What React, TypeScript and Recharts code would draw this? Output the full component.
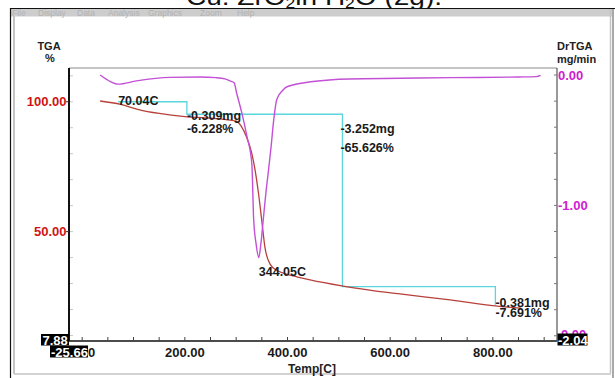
import React from 'react'
import {
  ComposedChart,
  Line,
  XAxis,
  YAxis,
  ReferenceDot,
  ReferenceLine,
} from 'recharts'

// TGA weight curve (%)
const tgaTemp = [35, 75, 110, 150, 200, 250, 300, 310, 320, 330, 337, 344, 350, 356, 366, 380, 392, 420, 444, 506, 560, 619, 717, 805, 855]
const tgaPct = [100.3, 99.0, 97.0, 95.5, 94.3, 93.7, 92.5, 90.5, 86.5, 80.5, 73.5, 64, 54, 44, 37.5, 35, 34, 32.5, 31.4, 29.1, 27.5, 26, 23.7, 21.4, 20.5]

// DrTGA curve (mg/min)
const drTemp = [35, 55, 70, 106, 171, 230, 260, 278, 288, 296, 301, 311, 321, 330.5, 334, 339, 344, 348, 353, 358, 363, 368, 373, 379, 390, 399, 450, 520, 620, 720, 850, 885, 893]
const drRate = [0, -0.05, -0.07, -0.045, -0.018, -0.015, -0.02, -0.03, -0.045, -0.06, -0.14, -0.29, -0.47, -0.68, -1.1, -1.3, -1.4, -1.3, -1.1, -0.9, -0.73, -0.55, -0.35, -0.19, -0.12, -0.09, -0.05, -0.03, -0.025, -0.02, -0.015, -0.012, -0.003]

// step analysis line
const stepTemp = [70.04, 204, 507, 805]
const stepPct = [100, 95.2, 28.85, 21.8]

// annotations
const noteTemp = [70.04, 204, 507, 344.05, 805]
const noteValue = [100, 95.2, 95.2, -1.4, 28.85]
const noteAxis = ['tga', 'tga', 'tga', 'dr', 'tga']
const noteText = [['70.04C'], ['-0.309mg', '-6.228%'], ['-3.252mg', '-65.626%'], ['344.05C'], ['-0.381mg', '-7.691%']]

const xTicks = [0, 50, 100, 150, 200, 250, 300, 350, 400, 450, 500, 550, 600, 650, 700, 750, 800, 850, 900]
const xLabels = [200, 400, 600, 800]
const tgaTicks = [10, 20, 30, 40, 50, 60, 70, 80, 90, 100, 110]
const tgaLabels = [50, 100]
const drTicks = [0, -0.2, -0.4, -0.6, -0.8, -1, -1.2, -1.4, -1.6, -1.8, -2]
const drLabels = [0, -1]
const menuItems = ['File', 'Display', 'Data', 'Analysis', 'Graphics', 'Zoom', 'Help']

const FONT = '"Liberation Sans", Arial, sans-serif'
const RED = '#d01414'
const MAG = '#d020d0'

const tgaData = tgaTemp.map((t, i) => ({ t, v: tgaPct[i] }))
const drData = drTemp.map((t, i) => ({ t, d: drRate[i] }))
const stepData = stepTemp.map((t, i) => ({ t, v: stepPct[i] }))

// text placement relative to the anchor point: [dx, baseline offsets]
const noteOffsets: [number, number[]][] = [
  [0, [3]],
  [0, [5.7, 18.4]],
  [-2, [18.7, 37.4]],
  [0, [18]],
  [0, [20, 30]],
]

const XTick = ({ x, y, payload }: any) => {
  const v = payload.value
  return (
    <g>
      <line x1={x} y1={y} x2={x} y2={y - 4} stroke="#444" strokeWidth={1} />
      {xLabels.includes(v) && (
        <text x={x} y={y + 15.5} textAnchor="middle" fontSize={13} fontWeight="bold" fill="#1a1a1a" fontFamily={FONT}>
          {v.toFixed(2)}
        </text>
      )}
    </g>
  )
}

const TgaTick = ({ x, y, payload }: any) => {
  const v = payload.value
  const lab = tgaLabels.includes(v)
  return (
    <g>
      <line x1={x + 1} y1={y} x2={x + 4} y2={y} stroke="#c8c8c8" strokeWidth={1} />
      {lab && <line x1={x - 3} y1={y} x2={x} y2={y} stroke="#333" strokeWidth={1} />}
      {lab && (
        <text x={x - 2.5} y={y + 4.5} textAnchor="end" fontSize={13} fontWeight="bold" fill={RED} fontFamily={FONT}>
          {v.toFixed(2)}
        </text>
      )}
    </g>
  )
}

const DrTick = ({ x, y, payload }: any) => {
  const v = payload.value
  const lab = drLabels.some(l => Math.abs(l - v) < 1e-6)
  return (
    <g>
      <line x1={x - 3} y1={y} x2={x} y2={y} stroke="#777" strokeWidth={1} />
      {lab && (
        <text x={x + 1} y={y + 4.5} textAnchor="start" fontSize={13} fontWeight="bold" fill={MAG} fontFamily={FONT}>
          {v.toFixed(2)}
        </text>
      )}
    </g>
  )
}

const Note = ({ cx, cy, i }: any) => {
  const [dx, dys] = noteOffsets[i]
  return (
    <g>
      {noteText[i].map((s, k) => (
        <text key={k} x={cx + dx} y={cy + dys[k]} fontSize={12.5} fontWeight="bold" fill="#1a1a1a" fontFamily={FONT}>
          {s}
        </text>
      ))}
    </g>
  )
}

export default function App() {
  return (
    <div style={{ position: 'fixed', left: 0, top: 0, width: 615, height: 378, background: '#fff', overflow: 'hidden' }}>
      <svg width={615} height={378} style={{ position: 'absolute', left: 0, top: 0 }} fontFamily={FONT}>
        <text x={186} y={5} fontSize={24} fill="#111" textLength={256} lengthAdjust="spacingAndGlyphs">
          Cu: ZrO<tspan fontSize={15} dy={3}>2</tspan><tspan dy={-3}>in H</tspan><tspan fontSize={15} dy={3}>2</tspan><tspan dy={-3}>O (2g).</tspan>
        </text>
        <rect x={11} y={9} width={601} height={7.5} fill="#cdcdcd" />
        {menuItems.map((m, i) => (
          <text key={m} x={[12, 38, 77, 108, 148, 200, 237][i]} y={15.5} fontSize={8.5} fill="#b2b2b2">{m}</text>
        ))}
        <line x1={10} y1={8.5} x2={615} y2={8.5} stroke="#111" strokeWidth={1.2} />
        <line x1={10.5} y1={8} x2={10.5} y2={378} stroke="#111" strokeWidth={1.2} />
        <line x1={14} y1={16} x2={14} y2={374} stroke="#c4c4c4" strokeWidth={2} />
        <line x1={610.5} y1={9} x2={610.5} y2={373} stroke="#c4c4c4" strokeWidth={1.5} />
        <line x1={613} y1={9} x2={613} y2={378} stroke="#555" strokeWidth={1} />
        <line x1={14} y1={374} x2={611} y2={374} stroke="#c4c4c4" strokeWidth={1.5} />
        <text x={49} y={50} textAnchor="middle" fontSize={11} fontWeight="bold" fill="#222">TGA</text>
        <text x={50} y={62} textAnchor="middle" fontSize={11} fontWeight="bold" fill="#222">%</text>
        <text x={557} y={50} fontSize={11} fontWeight="bold" fill="#222">DrTGA</text>
        <text x={557} y={63} fontSize={11} fontWeight="bold" fill="#222">mg/min</text>
        <text x={312} y={373} textAnchor="middle" fontSize={12} fontWeight="bold" fill="#222">Temp[C]</text>
      </svg>
      <div style={{ position: 'absolute', left: 0, top: 0 }}>
        <ComposedChart width={615} height={378} margin={{ top: 68, right: 0, bottom: 7, left: 0 }}>
          <XAxis
            type="number"
            dataKey="t"
            domain={[-25.66, 925]}
            ticks={xTicks}
            interval={0}
            height={30}
            allowDataOverflow
            tickSize={0}
            tickMargin={0}
            tickLine={false}
            axisLine={{ stroke: '#111', strokeWidth: 1.6 }}
            tick={<XTick />}
          />
          <YAxis
            yAxisId="tga"
            type="number"
            domain={[7.88, 113]}
            ticks={tgaTicks}
            interval={0}
            width={69}
            allowDataOverflow
            tickSize={0}
            tickMargin={0}
            tickLine={false}
            axisLine={{ stroke: '#111', strokeWidth: 2 }}
            tick={<TgaTick />}
          />
          <YAxis
            yAxisId="dr"
            orientation="right"
            type="number"
            domain={[-2.04, 0.054]}
            ticks={drTicks}
            interval={0}
            width={58}
            allowDataOverflow
            tickSize={0}
            tickMargin={0}
            tickLine={false}
            axisLine={{ stroke: '#555', strokeWidth: 1.2 }}
            tick={<DrTick />}
          />
          <ReferenceLine yAxisId="tga" y={113} stroke="#8a8a8a" strokeWidth={1} />
          <Line
            data={stepData}
            dataKey="v"
            yAxisId="tga"
            type="stepAfter"
            stroke="#5ad6dc"
            strokeWidth={1.3}
            dot={false}
            isAnimationActive={false}
          />
          <Line
            data={tgaData}
            dataKey="v"
            yAxisId="tga"
            type="monotone"
            stroke="#b8403a"
            strokeWidth={1.3}
            dot={false}
            isAnimationActive={false}
          />
          <Line
            data={drData}
            dataKey="d"
            yAxisId="dr"
            type="monotone"
            stroke="#c350d6"
            strokeWidth={1.4}
            dot={false}
            isAnimationActive={false}
          />
          {noteTemp.map((t, i) => (
            <ReferenceDot
              key={i}
              x={t}
              y={noteValue[i]}
              yAxisId={noteAxis[i]}
              r={0}
              ifOverflow="visible"
              shape={(p: any) => <Note cx={p.cx} cy={p.cy} i={i} />}
            />
          ))}
        </ComposedChart>
      </div>
      <svg width={615} height={378} style={{ position: 'absolute', left: 0, top: 0, pointerEvents: 'none' }} fontFamily={FONT}>
        <rect x={41} y={334} width={28} height={11.5} fill="#000" />
        <text x={42.5} y={344.5} fontSize={13} fontWeight="bold" fill="#fff">7.88</text>
        <rect x={50} y={345.5} width={38} height={12} fill="#000" />
        <text x={51} y={356.5} fontSize={13} fontWeight="bold" fill="#fff">-25.66</text>
        <text x={88} y={356.5} fontSize={13} fontWeight="bold" fill="#1a1a1a">0</text>
        <text x={561} y={339} fontSize={13} fontWeight="bold" fill={MAG}>0.00</text>
        <rect x={557.5} y={333.5} width={30} height={12} fill="#000" />
        <text x={558} y={344.5} fontSize={13} fontWeight="bold" fill="#fff">-2.04</text>
      </svg>
    </div>
  )
}
